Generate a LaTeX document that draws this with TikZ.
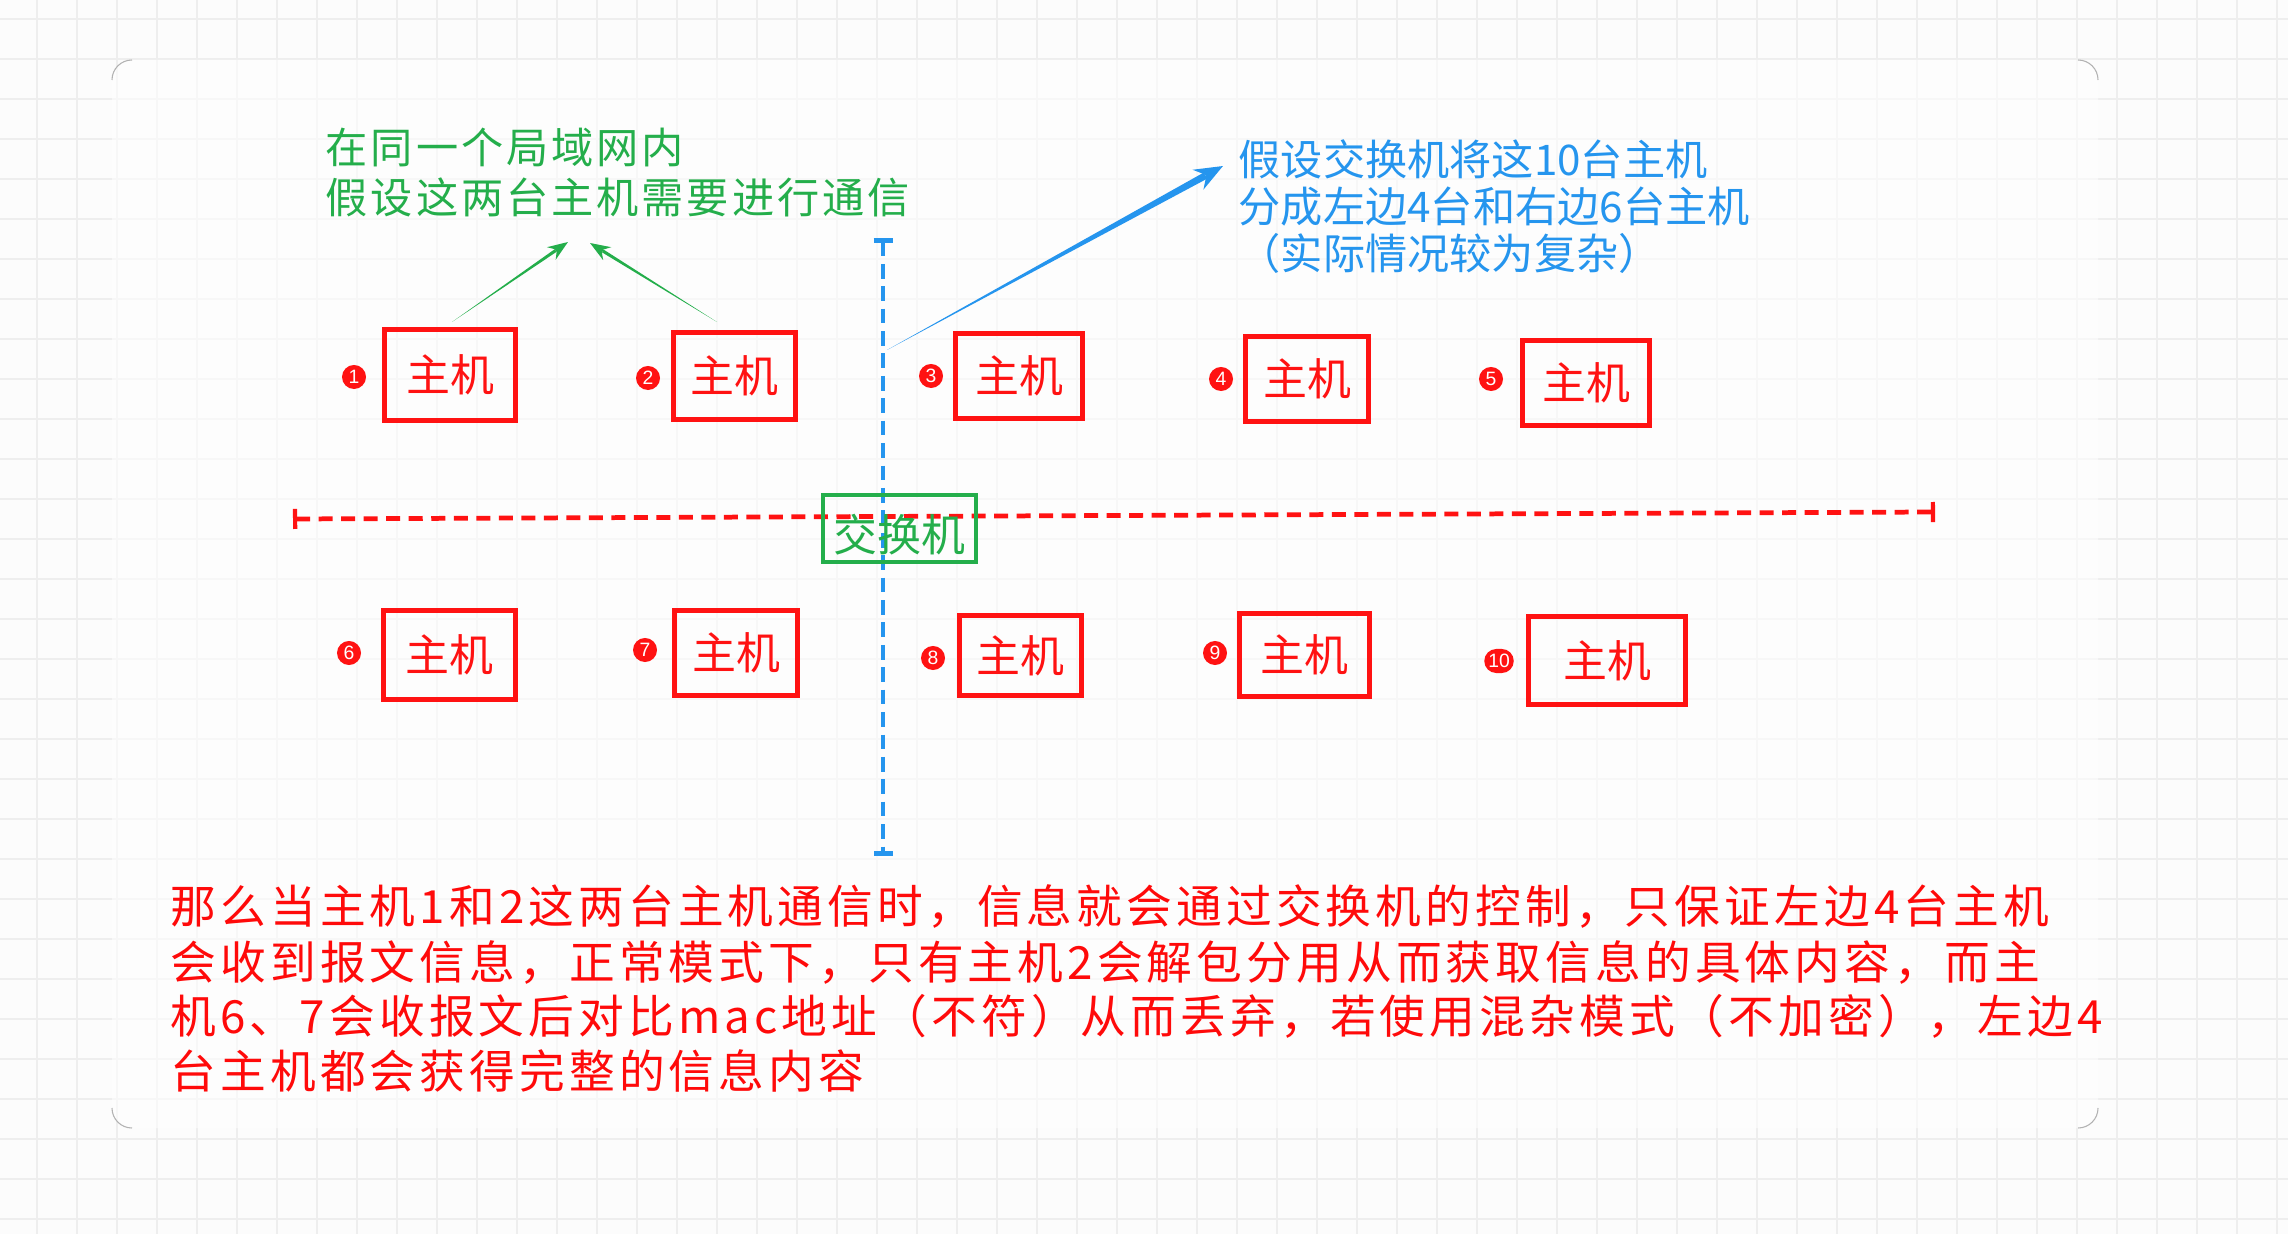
\documentclass[tikz,border=0pt]{standalone}
\usepackage{fontspec}
\setmainfont{Liberation Sans}
\newfontfamily\cjk{Noto Sans CJK SC}
\newfontfamily\cjkg[LetterSpace=7]{Noto Sans CJK SC}
\newfontfamily\cjkr[LetterSpace=9]{Noto Sans CJK SC}
\usetikzlibrary{arrows.meta,calc}
\definecolor{hostred}{HTML}{FF1212}
\definecolor{txtred}{HTML}{FF0A0A}
\definecolor{grn}{HTML}{24AE4B}
\definecolor{blu}{HTML}{2595EE}
\definecolor{gridc}{HTML}{EEEEEE}
\definecolor{bgc}{HTML}{FCFCFC}
\begin{document}
\begin{tikzpicture}[x=0.01cm,y=-0.01cm,
  host/.style={draw=hostred, line width=1.4pt, inner sep=0pt, text=hostred,
    font=\cjk\fontsize{12.5}{14}\selectfont},
  badge/.style={rectangle, rounded corners=0.12cm, fill=hostred, text=white,
    minimum width=0.24cm, minimum height=0.24cm, inner xsep=0.04cm, inner ysep=0pt,
    font=\fontsize{5.5}{5.5}\selectfont},
  switchbox/.style={draw=grn, line width=1.15pt, inner sep=0pt, text=grn,
    minimum width=1.53cm, minimum height=0.67cm, text height=0.46cm, text depth=0cm,
    font=\cjk\fontsize{12.5}{14}\selectfont},
  gtext/.style={anchor=base west, inner sep=0pt, text=grn, font=\cjkg\fontsize{12}{14}\selectfont},
  btext/.style={anchor=base west, inner sep=0pt, text=blu, font=\cjk\fontsize{12}{14}\selectfont},
  rtext/.style={anchor=base west, inner sep=0pt, text=txtred, font=\cjkr\fontsize{13}{15}\selectfont},
  reddash/.style={draw=hostred, line width=1.35pt, dash pattern=on 0.14cm off 0.085cm,
    {Bar[width=0.2cm,line width=1.2pt]}-{Bar[width=0.2cm,line width=1.2pt]}},
  bluedash/.style={draw=blu, line width=0.95pt, dash pattern=on 0.147cm off 0.077cm,
    {Bar[width=0.19cm,line width=1.3pt]}-{Bar[width=0.19cm,line width=1.3pt]}},
  gridline/.style={draw=gridc, line width=0.45pt}
]
\useasboundingbox (0,0) rectangle (2288,1234);
% background and grid
\fill[bgc] (0,0) rectangle (2288,1234);
\foreach \gx in {37,77,...,2288} \draw[gridline] (\gx,0) -- (\gx,1234);
\foreach \gy in {19,59,...,1234} \draw[gridline] (0,\gy) -- (2288,\gy);
% panel
\fill[white, opacity=0.55, rounded corners=0.2cm] (112,60) rectangle (2098,1128);
\draw[gray!60, line width=0.3pt] (112,80) arc[start angle=180, end angle=90, radius=0.2cm];
\draw[gray!60, line width=0.3pt] (2078,60) arc[start angle=90, end angle=0, radius=0.2cm];
\draw[gray!60, line width=0.3pt] (112,1108) arc[start angle=180, end angle=270, radius=0.2cm];
\draw[gray!60, line width=0.3pt] (2078,1128) arc[start angle=270, end angle=360, radius=0.2cm];

% divider lines
\coordinate (rl) at (293,519);
\coordinate (rr) at (1935,512);
\coordinate (bt) at (883,238);
\coordinate (bb) at (883,856);
\draw[reddash] (rl) -- (rr);
\draw[bluedash] (bt) -- (bb);

% hosts
\node[host, minimum width=1.31cm, minimum height=0.91cm] (h1) at (450,375) {主机};
\node[host, minimum width=1.22cm, minimum height=0.87cm] (h2) at (734.5,376) {主机};
\node[host, minimum width=1.27cm, minimum height=0.85cm] (h3) at (1019,376) {主机};
\node[host, minimum width=1.23cm, minimum height=0.85cm] (h4) at (1307,379) {主机};
\node[host, minimum width=1.27cm, minimum height=0.85cm] (h5) at (1586,383) {主机};
\node[host, minimum width=1.32cm, minimum height=0.89cm] (h6) at (449.5,655) {主机};
\node[host, minimum width=1.23cm, minimum height=0.85cm] (h7) at (736,653) {主机};
\node[host, minimum width=1.22cm, minimum height=0.80cm] (h8) at (1020.5,655.5) {主机};
\node[host, minimum width=1.30cm, minimum height=0.83cm] (h9) at (1304.5,655) {主机};
\node[host, minimum width=1.57cm, minimum height=0.88cm] (h10) at (1607,660.5) {主机};

% badges
\node[badge] (n1) at (354,377) {1};
\node[badge] (n2) at (648,378) {2};
\node[badge] (n3) at (931,376) {3};
\node[badge] (n4) at (1221,379) {4};
\node[badge] (n5) at (1491,379) {5};
\node[badge] (n6) at (349,653) {6};
\node[badge] (n7) at (645,650) {7};
\node[badge] (n8) at (933,658) {8};
\node[badge] (n9) at (1215,653) {9};
\node[badge] (n10) at (1499,661) {10};

% switch
\node[switchbox] (sw) at (899.5,528.5) {交换机};

% green note
\node[gtext] (g1) at (325,164) {在同一个局域网内};
\node[gtext] (g2) at (325,214) {假设这两台主机需要进行通信};

% blue note
\node[btext] (b1) at (1238,176) {假设交换机将这10台主机};
\node[btext] (b2) at (1238,223) {分成左边4台和右边6台主机};
\node[btext] (b3) at (1238,270) {（实际情况较为复杂）};

% green arrows (tapered)
\coordinate (s1) at (452,322);
\coordinate (t1) at (568,242);
\coordinate (s2) at (717,322);
\coordinate (t2) at (590,243);
\coordinate (e1) at ($(t1)!0.15cm!(s1)$);
\coordinate (e2) at ($(t2)!0.15cm!(s2)$);
\fill[grn] (s1) -- ($(e1)!0.016cm!90:(t1)$) -- ($(e1)!0.016cm!-90:(t1)$) -- cycle;
\fill[grn] (s2) -- ($(e2)!0.016cm!90:(t2)$) -- ($(e2)!0.016cm!-90:(t2)$) -- cycle;
\draw[grn, line width=0.8pt, -{Stealth[length=0.2cm,width=0.15cm]}] (e1) -- (t1);
\draw[grn, line width=0.8pt, -{Stealth[length=0.2cm,width=0.15cm]}] (e2) -- (t2);

% blue arrow (tapered)
\coordinate (s3) at (887,350);
\coordinate (t3) at (1223,166);
\coordinate (e3) at ($(t3)!0.2cm!(s3)$);
\fill[blu] (s3) -- ($(e3)!0.035cm!90:(t3)$) -- ($(e3)!0.035cm!-90:(t3)$) -- cycle;
\draw[blu, line width=1.6pt, -{Stealth[length=0.28cm,width=0.22cm]}] (e3) -- (t3);

% bottom paragraph
\node[rtext] (p1) at (170,923) {那么当主机1和2这两台主机通信时，信息就会通过交换机的控制，只保证左边4台主机};
\node[rtext] (p2) at (170,979) {会收到报文信息，正常模式下，只有主机2会解包分用从而获取信息的具体内容，而主};
\node[rtext] (p3) at (170,1033) {机6、7会收报文后对比mac地址（不符）从而丢弃，若使用混杂模式（不加密），左边4};
\node[rtext] (p4) at (170,1088) {台主机都会获得完整的信息内容};
\end{tikzpicture}
\end{document}
